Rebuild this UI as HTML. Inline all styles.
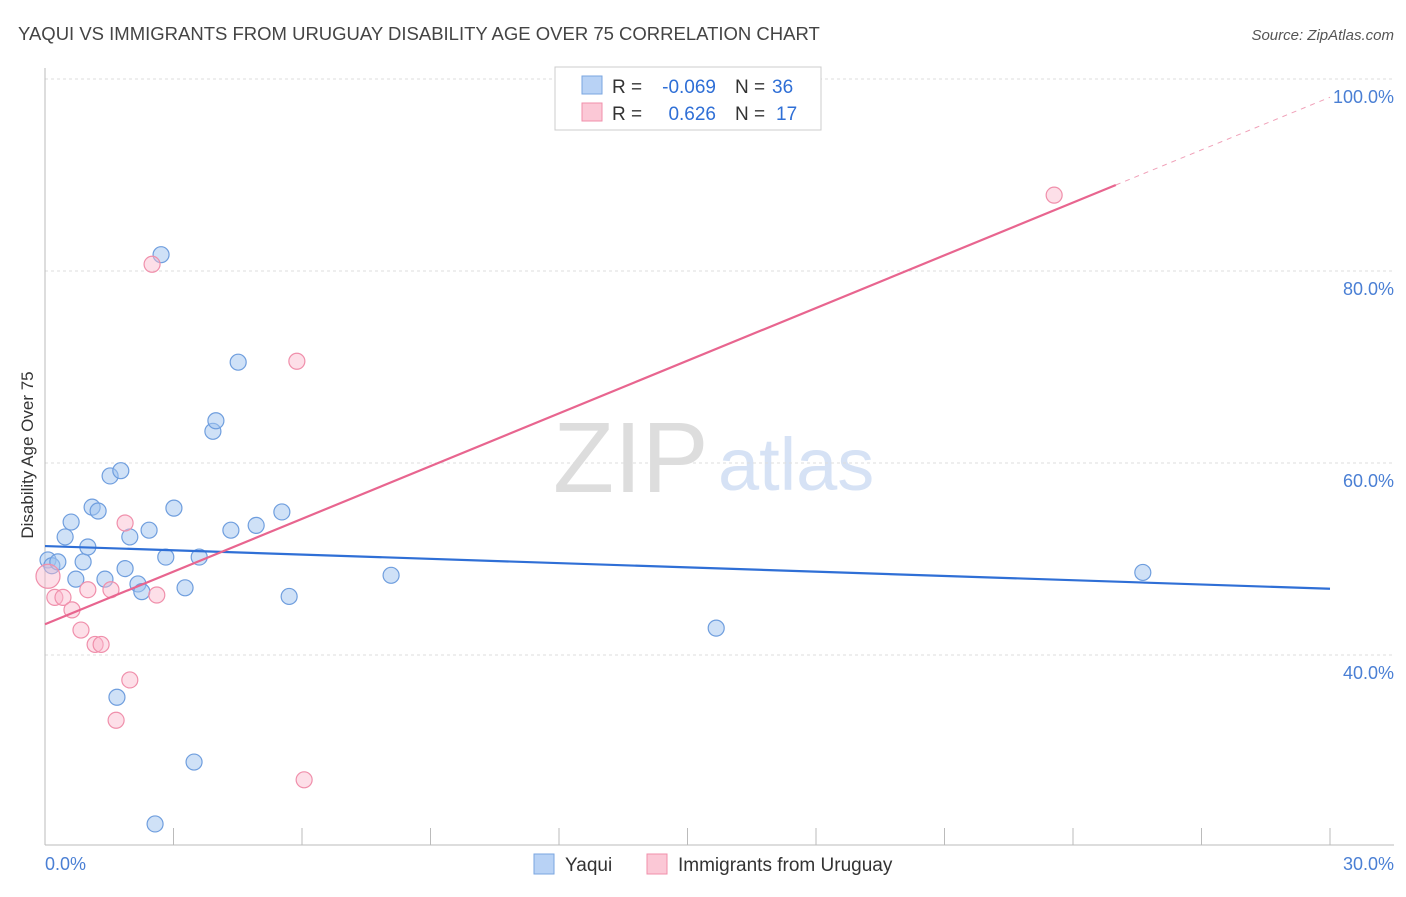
<!DOCTYPE html>
<html><head><meta charset="utf-8"><style>
body{margin:0;background:#fff;font-family:"Liberation Sans",sans-serif}
svg text{font-family:"Liberation Sans",sans-serif}
</style></head><body>
<svg id="c" width="1406" height="892">
<text x="18" y="40" font-size="18.5" fill="#444">YAQUI VS IMMIGRANTS FROM URUGUAY DISABILITY AGE OVER 75 CORRELATION CHART</text>
<text x="1394" y="40" font-size="15" fill="#555" font-style="italic" text-anchor="end">Source: ZipAtlas.com</text>
<text x="553" y="492" font-size="100" fill="#ddd" font-family="Liberation Serif">ZIP</text>
<text x="718" y="490" font-size="74" fill="#d6e2f5">atlas</text>
<text transform="translate(33,455) rotate(-90)" font-size="17" fill="#333" text-anchor="middle">Disability Age Over 75</text>
<g id="grid"></g><g id="marks"></g>
<g>
<rect x="555" y="67" width="266" height="63" fill="#fff" stroke="#ccc"/>
<rect x="582" y="76" width="20" height="18" fill="#b8d2f5" stroke="#7aa6e0"/>
<rect x="582" y="103" width="20" height="18" fill="#fbc8d6" stroke="#f08fab"/>
<text x="612" y="93" font-size="19" fill="#333">R =</text>
<text x="716" y="93" font-size="19" fill="#2f6fd6" text-anchor="end">-0.069</text>
<text x="735" y="93" font-size="19" fill="#333">N =</text>
<text x="772" y="93" font-size="19" fill="#2f6fd6">36</text>
<text x="612" y="120" font-size="19" fill="#333">R =</text>
<text x="716" y="120" font-size="19" fill="#2f6fd6" text-anchor="end">0.626</text>
<text x="735" y="120" font-size="19" fill="#333">N =</text>
<text x="776" y="120" font-size="19" fill="#2f6fd6">17</text>
</g>
<g>
<rect x="534" y="854" width="20" height="20" fill="#b8d2f5" stroke="#7aa6e0"/>
<text x="565" y="871" font-size="19" fill="#333">Yaqui</text>
<rect x="647" y="854" width="20" height="20" fill="#fbc8d6" stroke="#f08fab"/>
<text x="678" y="871" font-size="19" fill="#333">Immigrants from Uruguay</text>
</g>
</svg>
<script>
const yTicks=[40,60,80,100];
const yTickLabels=["40.0%","60.0%","80.0%","100.0%"];
const xTickLabels=["0.0%","30.0%"];
const blueX=[0.07,0.16,0.30,0.47,0.61,0.72,0.89,1.00,1.10,1.24,1.40,1.52,1.77,1.87,1.98,2.17,2.26,2.43,2.57,2.71,2.82,3.01,3.27,3.48,3.60,3.92,3.99,4.34,4.51,4.93,5.53,5.70,8.08,15.67,25.63,1.68];
const blueY=[49.9,49.3,49.7,52.3,53.85,47.9,49.7,51.25,55.4,55.0,47.9,58.65,59.2,49.0,52.3,47.4,46.6,53.0,22.4,81.7,50.2,55.3,47.0,28.85,50.2,63.3,64.4,53.0,70.5,53.5,54.9,46.1,48.3,42.8,48.6,35.6];
const pinkX=[0.07,0.23,0.42,0.63,0.84,1.00,1.17,1.31,1.54,1.66,1.87,1.98,2.50,2.61,5.88,6.05,23.56];
const pinkY=[48.2,46.0,46.0,44.7,42.6,46.8,41.1,41.1,46.8,33.2,53.75,37.4,80.7,46.25,70.6,27.0,87.9];
const blueLine=[51.35,46.9];
const pinkLine=[43.2,88.96,98.1];
const X=v=>45+v/30*1285, Y=v=>79+(100-v)*9.6;
const NS="http://www.w3.org/2000/svg";
function mk(t,a,p){const e=document.createElementNS(NS,t);for(const k in a)e.setAttribute(k,a[k]);p.appendChild(e);return e;}
const g=document.getElementById('grid'), m=document.getElementById('marks');
yTicks.forEach((t,i)=>{
 const l=mk('line',{x1:45,x2:1394,y1:Y(t),y2:Y(t),stroke:'#ddd','stroke-dasharray':'3,3'},g);
 
 
 const tx=mk('text',{x:1394,y:Y(t)+24,'font-size':18,fill:'#4a7fd4','text-anchor':'end'},g);
 tx.textContent=yTickLabels[i];
 
 
});
const ax=mk('line',{x1:45,x2:45,y1:68,y2:845,stroke:'#bbb'},g);


const bx=mk('line',{x1:45,x2:1394,y1:845,y2:845,stroke:'#bbb'},g);


for(let i=1;i<=10;i++){const t=mk('line',{x1:X(i*3),x2:X(i*3),y1:828,y2:845,stroke:'#bbb'},g);
 
 }
[[0,'start',45],[30,'end',1394]].forEach((d,i)=>{const t=mk('text',{x:d[2],y:870,'font-size':18,fill:'#4a7fd4','text-anchor':d[1]},g);t.textContent=xTickLabels[i];
 
 });
blueX.forEach((x,i)=>{const c=mk('circle',{cx:X(x),cy:Y(blueY[i]),r:8,fill:'rgba(160,195,240,0.5)',stroke:'#6f9ede','stroke-width':1.2},m);
 
 });
pinkX.forEach((x,i)=>{const c=mk('circle',{cx:X(x),cy:Y(pinkY[i]),r:i==0?12:8,fill:'rgba(250,185,205,0.45)',stroke:'#f08fab','stroke-width':1.2},m);
 
 });
const bl=mk('line',{x1:X(0),y1:Y(blueLine[0]),x2:X(30),y2:Y(blueLine[1]),stroke:'#2f6fd6','stroke-width':2.2},m);


const pl=mk('line',{x1:X(0),y1:Y(pinkLine[0]),x2:X(25),y2:Y(pinkLine[1]),stroke:'#e8658f','stroke-width':2.2},m);


const pd=mk('line',{x1:X(25),y1:Y(pinkLine[1]),x2:X(30),y2:Y(pinkLine[2]),stroke:'#f0a0b8','stroke-width':1,'stroke-dasharray':'5,5'},m);


</script>
</body></html>
